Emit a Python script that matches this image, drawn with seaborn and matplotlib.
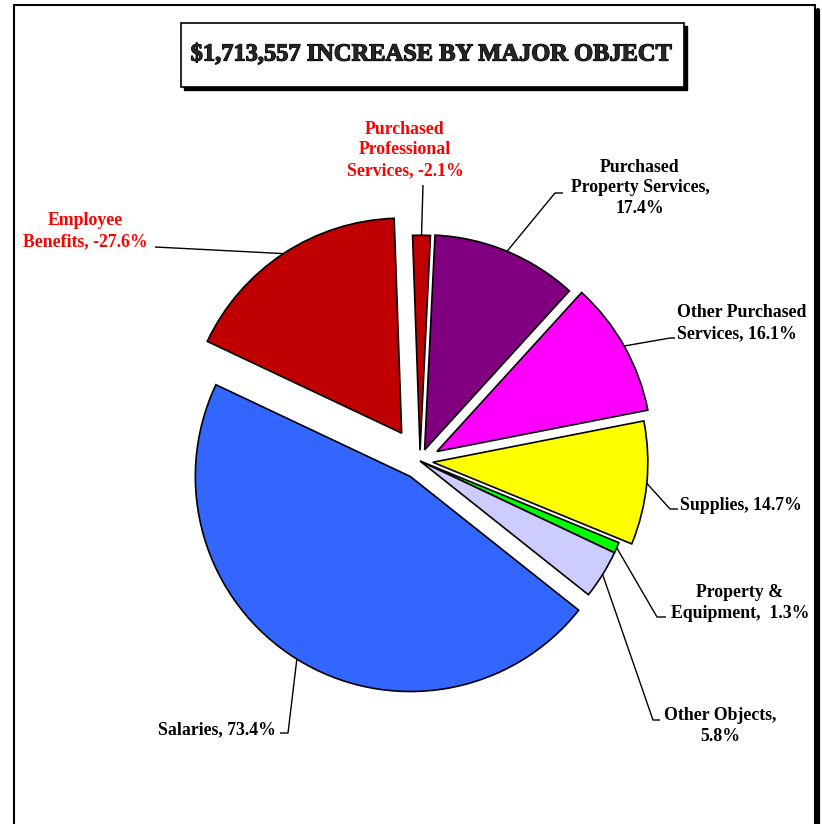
import numpy as np
import matplotlib
matplotlib.use("Agg")
import matplotlib.pyplot as plt
import seaborn as sns
from matplotlib.patches import Rectangle
from matplotlib.lines import Line2D
import matplotlib.patheffects as pe

# Data (percent of the total increase, negatives drawn by size)
categories = ["Purchased Professional Services", "Purchased Property Services",
              "Other Purchased Services", "Supplies", "Property & Equipment",
              "Other Objects", "Salaries", "Employee Benefits"]
pct_change = [-2.1, 17.4, 16.1, 14.7, 1.3, 5.8, 73.4, -27.6]
label_texts = ["Purchased\nProfessional\nServices, -2.1%",
               "Purchased\nProperty Services,\n17.4%",
               "Other Purchased\nServices, 16.1%",
               "Supplies, 14.7%",
               "Property &\nEquipment,  1.3%",
               "Other Objects,\n5.8%",
               "Salaries, 73.4%",
               "Employee\nBenefits, -27.6%"]
title = "$1,713,557 INCREASE BY MAJOR OBJECT"

colors = ["#C00000", "#800080", "#FF00FF", "#FFFF00", "#00FF00",
          "#CCCCFF", "#3366FF", "#C00000"]
explode = [0.05, 0.056, 0.09, 0.06, 0.0, 0.0, 0.085, 0.155]

W, H = 822, 824
CX, CY, R = 420, 461, 215


def px(x, y):
    # pixel position -> data coords (pie radius = 1)
    return ((x - CX) / R, (CY - y) / R)


def fig_px(x, y):
    return (x / W, 1 - y / H)


sns.set_theme(style="white")
plt.rcParams["font.family"] = ["Liberation Serif", "DejaVu Serif"]

fig = plt.figure(figsize=(W / 100, H / 100), dpi=100)
ax = fig.add_axes([0, 0, 1, 1])

sizes = np.abs(pct_change)
wedges, _ = ax.pie(sizes, colors=colors, explode=explode, startangle=92,
                   counterclock=False, radius=1,
                   wedgeprops=dict(edgecolor="black", linewidth=1.2))

ax.set_aspect("equal")
ax.set_xlim(-CX / R, (W - CX) / R)
ax.set_ylim(-(H - CY) / R, CY / R)
ax.axis("off")

# label placement (px): position, alignment, leader path from label side
label_layout = [
    ((405, 150), "center", [(423, 185)]),
    ((640, 188), "center", [(555, 193), (563, 193)]),
    ((677, 323), "left", [(670, 338), (675, 338)]),
    ((680, 506), "left", [(670, 509), (678, 509)]),
    ((740, 603), "center", [(657, 617), (666, 617)]),
    ((720, 726), "center", [(653, 720), (660, 720)]),
    ((276, 730), "right", [(288, 733), (280, 733)]),
    ((85, 231), "center", [(155, 247)]),
]

for w, txt, val, (pos, ha, path) in zip(wedges, label_texts, pct_change, label_layout):
    mid = np.deg2rad((w.theta1 + w.theta2) / 2)
    ax0 = w.center[0] + w.r * np.cos(mid)
    ay0 = w.center[1] + w.r * np.sin(mid)
    pts = [(ax0, ay0)] + [px(*p) for p in path]
    xs, ys = zip(*pts)
    ax.plot(xs, ys, color="black", lw=1.0, solid_capstyle="butt")
    color = "#FF0000" if val < 0 else "black"
    tx, ty = px(*pos)
    ax.text(tx, ty, txt, ha=ha, va="center", multialignment=ha,
            fontsize=12.8, fontweight="bold", color=color, linespacing=1.3)

# outer frame
fig.add_artist(Line2D([14 / W, 815 / W], [1 - 5 / H, 1 - 5 / H],
                      transform=fig.transFigure, color="black", lw=1.5))
fig.add_artist(Line2D([14 / W, 14 / W], [1 - 5 / H, 0],
                      transform=fig.transFigure, color="black", lw=1.5))
fig.add_artist(Line2D([815 / W, 815 / W], [1 - 5 / H, 0],
                      transform=fig.transFigure, color="black", lw=1.5))
fig.add_artist(Line2D([818 / W, 818 / W], [1 - 10 / H, 0],
                      transform=fig.transFigure, color="black", lw=3))

# title box with shadow
bx, by = fig_px(181, 87)
bw, bh = (684 - 181) / W, (87 - 23) / H
fig.add_artist(Rectangle((bx + 2.5 / W, by - 2.5 / H), bw, bh, transform=fig.transFigure,
                         facecolor="black", edgecolor="black", lw=1))
fig.add_artist(Rectangle((bx, by), bw, bh, transform=fig.transFigure,
                         facecolor="white", edgecolor="black", lw=1.2))
fig.text(*fig_px(431, 55), title, ha="center", va="center",
         fontsize=17.6, fontweight="bold", family=["Liberation Serif"],
         path_effects=[pe.withStroke(linewidth=0.9, foreground="black")])

fig.savefig("out.png", dpi=100)
